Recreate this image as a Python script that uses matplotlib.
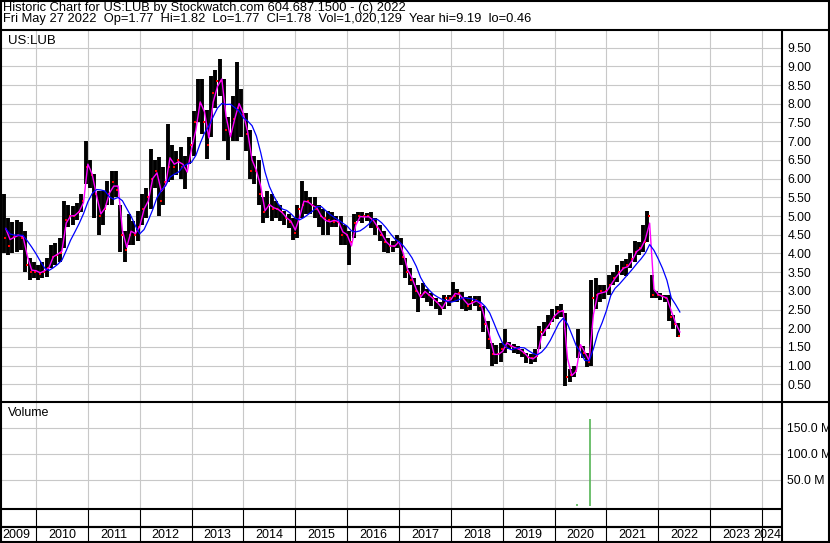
import numpy as np
import pandas as pd
import matplotlib
matplotlib.use("Agg")
import matplotlib.pyplot as plt

plt.rcParams['font.family'] = ['Liberation Sans', 'DejaVu Sans']

# ---------------- data (monthly bars) ----------------
months = pd.period_range("2009-05", "2022-05", freq="M")

high = [
    5.6, 4.95, 4.85, 4.9, 4.85, 4.6, 3.87, 3.78,                      # 2009 May-Dec
    3.7, 3.78, 3.87, 4.23, 4.28, 4.4, 5.4, 5.3, 5.27, 5.36, 5.58, 7.0,  # 2010
    6.5, 6.12, 5.67, 5.67, 5.94, 6.2, 6.2, 5.3, 4.6, 5.05, 4.86, 5.13,  # 2011
    5.58, 5.76, 6.8, 6.5, 6.57, 6.3, 7.47, 6.9, 6.75, 6.85, 6.6, 7.1,   # 2012
    7.8, 8.65, 8.65, 7.83, 8.73, 8.9, 9.19, 8.65, 7.65, 8.2, 9.12, 8.4,  # 2013
    7.75, 7.3, 6.6, 6.5, 5.5, 5.67, 5.6, 5.4, 5.3, 5.13, 5.05, 4.95,    # 2014
    5.3, 5.94, 5.67, 5.5, 5.5, 5.3, 5.2, 5.13, 5.1, 5.0, 5.0, 4.77,     # 2015
    4.6, 5.05, 5.1, 5.1, 5.08, 5.1, 4.95, 4.77, 4.6, 4.41, 4.32, 4.5,   # 2016
    4.4, 3.87, 3.6, 3.33, 3.15, 3.2, 3.06, 2.93, 2.8, 2.7, 2.88, 2.88,  # 2017
    3.24, 3.06, 2.97, 2.84, 2.85, 2.85, 2.85, 2.6, 2.2, 1.6, 1.55, 1.6,  # 2018
    1.98, 1.62, 1.58, 1.53, 1.45, 1.35, 1.3, 1.45, 2.07, 2.16, 2.34, 2.52,  # 2019
    2.6, 2.66, 2.4, 0.9, 1.0, 1.98, 1.53, 1.35, 3.3, 3.33, 3.15, 3.15,  # 2020
    3.42, 3.5, 3.7, 3.8, 3.85, 4.0, 4.32, 4.3, 4.77, 5.13, 3.42, 3.0,   # 2021
    2.95, 2.9, 2.9, 2.35, 2.15,                                         # 2022 Jan-May
]
low = [
    4.0, 3.96, 4.0, 4.05, 4.1, 3.5, 3.29, 3.33,
    3.29, 3.33, 3.38, 3.6, 3.7, 3.78, 4.14, 4.7, 4.77, 4.9, 5.1, 5.86,
    5.76, 4.95, 4.5, 4.77, 5.3, 5.3, 5.5, 4.05, 3.78, 4.23, 4.23, 4.32,
    4.77, 4.95, 5.2, 5.76, 5.0, 5.3, 5.9, 5.95, 6.1, 6.0, 5.72, 6.4,
    6.6, 7.5, 7.2, 6.53, 7.1, 7.9, 8.2, 7.0, 6.5, 7.0, 7.0, 7.1,
    6.75, 6.0, 5.85, 5.3, 4.82, 4.95, 4.86, 4.95, 4.86, 4.77, 4.68, 4.37,
    4.4, 4.95, 5.05, 5.05, 4.95, 4.7, 4.5, 4.5, 4.7, 4.7, 4.23, 4.23,
    3.7, 4.41, 4.86, 4.82, 4.86, 4.68, 4.5, 4.32, 4.05, 4.0, 4.05, 4.14,
    3.7, 3.33, 3.15, 2.79, 2.43, 2.8, 2.7, 2.6, 2.52, 2.34, 2.52, 2.6,
    2.7, 2.7, 2.52, 2.45, 2.48, 2.6, 2.45, 1.9, 1.45, 1.0, 1.05, 1.1,
    1.35, 1.44, 1.35, 1.3, 1.22, 1.08, 1.04, 1.1, 1.44, 1.8, 1.98, 2.16,
    2.25, 2.3, 0.46, 0.55, 0.7, 1.2, 1.2, 0.95, 1.0, 2.52, 2.7, 2.79,
    2.88, 3.15, 3.24, 3.42, 3.4, 3.6, 3.78, 3.96, 4.05, 4.3, 2.8, 2.8,
    2.75, 2.7, 2.2, 1.98, 1.77,
]
close = [
    4.4, 4.2, 4.45, 4.5, 4.4, 3.7, 3.5, 3.5,
    3.45, 3.5, 3.6, 3.9, 3.95, 4.0, 4.9, 5.0, 5.0, 5.1, 5.4, 6.3,
    6.1, 5.6, 5.0, 5.2, 5.6, 5.9, 5.7, 4.5, 4.1, 4.5, 4.5, 4.7,
    5.2, 5.5, 6.0, 6.2, 5.4, 5.9, 6.3, 6.3, 6.5, 6.3, 6.2, 6.9,
    7.5, 8.0, 7.5, 6.9, 8.3, 8.6, 8.6, 7.3, 7.2, 7.6, 7.9, 7.7,
    7.2, 6.2, 6.2, 5.6, 5.1, 5.3, 5.2, 5.2, 5.1, 4.95, 4.85, 4.55,
    5.2, 5.3, 5.4, 5.3, 5.2, 5.0, 4.95, 4.9, 4.85, 4.85, 4.5, 4.5,
    4.3, 4.8, 5.0, 5.0, 5.0, 4.9, 4.7, 4.5, 4.3, 4.2, 4.2, 4.3,
    3.9, 3.5, 3.3, 3.0, 2.9, 2.95, 2.9, 2.8, 2.7, 2.55, 2.8, 2.8,
    2.85, 2.95, 2.8, 2.6, 2.7, 2.75, 2.6, 2.1, 1.7, 1.3, 1.3, 1.45,
    1.5, 1.52, 1.48, 1.45, 1.35, 1.22, 1.2, 1.25, 1.9, 1.95, 2.1, 2.3,
    2.45, 2.45, 0.7, 0.75, 0.85, 1.5, 1.35, 1.1, 2.8, 2.9, 3.0, 3.0,
    3.15, 3.35, 3.5, 3.6, 3.7, 3.85, 4.05, 4.15, 4.3, 5.0, 2.9, 2.9,
    2.85, 2.82, 2.3, 2.1, 1.78,
]

vol_dates = ["2020-06-08", "2020-09-04"]
vol_values = [3.0e6, 167.0e6]

price_ticks = [0.5, 1.0, 1.5, 2.0, 2.5, 3.0, 3.5, 4.0, 4.5, 5.0,
               5.5, 6.0, 6.5, 7.0, 7.5, 8.0, 8.5, 9.0, 9.5]
vol_ticks = [50e6, 100e6, 150e6]
vol_labels = ["50.0 M", "100.0 M", "150.0 M"]
years = list(range(2009, 2025))

header1 = "Historic Chart for US:LUB by Stockwatch.com 604.687.1500 - (c) 2022"
header2 = ("Fri May 27 2022  Op=1.77  Hi=1.82  Lo=1.77  Cl=1.78  "
           "Vol=1,020,129  Year hi=9.19  lo=0.46")

# ---------------- derived series ----------------
df = pd.DataFrame({"high": high, "low": low, "close": close}, index=months)
df["x_mid"] = months.year + (months.month - 0.5) / 12
df["x_end"] = months.year + months.month / 12
df["ma_short"] = (df["high"] + df["low"] + df["close"]) / 3
df["ma_long"] = df["ma_short"].rolling(5, min_periods=1).mean()


def dec_year(d):
    d = pd.Timestamp(d)
    return d.year + (d.dayofyear - 0.5) / (366 if d.is_leap_year else 365)


vol_x = [dec_year(d) for d in vol_dates]

# ---------------- layout ----------------
W, H = 830, 543
fig = plt.figure(figsize=(W / 100, H / 100), dpi=100)
fig.patch.set_facecolor("white")


def box(x0, y0, x1, y1):
    return [x0 / W, 1 - y1 / H, (x1 - x0) / W, (y1 - y0) / H]


XR = 781.7
xlim = (2009.306, 2024.38)
grid_kw = dict(color="#c8c8c8", lw=0.8)

ax = fig.add_axes(box(0, 30, XR, 402))
axv = fig.add_axes(box(0, 402, XR, 509))
axd = fig.add_axes(box(0, 509, XR, 543))

for a in (ax, axv, axd):
    a.set_xlim(*xlim)
    for s in a.spines.values():
        s.set_visible(False)
    a.set_xticks(years[1:])
    a.tick_params(axis="x", length=0, labelbottom=False)
    a.set_axisbelow(True)

# price panel
ax.set_ylim(0.027, 9.973)
ax.yaxis.tick_right()
ax.set_yticks(price_ticks)
ax.set_yticklabels([f"{v:.2f}" for v in price_ticks])
ax.tick_params(axis="y", length=0, pad=4, labelsize=8.8)
ax.grid(True, **grid_kw)

ax.vlines(df["x_mid"], df["low"], df["high"], color="black", lw=2.8)
ax.plot(df["x_mid"] + 0.03, df["close"], "s", color="red", ms=1.8, mew=0)
ax.plot(df["x_end"], df["ma_short"], color="#ff00ff", lw=1.0)
ax.plot(df["x_end"], df["ma_long"], color="#0000ff", lw=0.9)

# volume panel
axv.set_ylim(-5.8e6, 200e6)
axv.yaxis.tick_right()
axv.set_yticks(vol_ticks)
axv.set_yticklabels(vol_labels)
axv.tick_params(axis="y", length=0, pad=4, labelsize=8.8)
axv.grid(True, **grid_kw)
axv.vlines(vol_x, 0, vol_values, color="#55b555", lw=1.2)

# date rows
axd.set_ylim(0, 34)
axd.set_yticks([])
axd.vlines(years[1:], 0, 34, color="black", lw=0.8)
axd.axhline(16, color="black", lw=1.5)
for y in years:
    if y == years[0]:
        axd.text(xlim[0] + 0.04, 7.5, str(y), ha="left", va="center", fontsize=9)
    elif y == years[-1]:
        axd.text(xlim[1] - 0.01, 7.5, str(y), ha="right", va="center", fontsize=9)
    else:
        axd.text(y + 0.5, 7.5, str(y), ha="center", va="center", fontsize=9)

# frame / header overlay in pixel units
fr = fig.add_axes([0, 0, 1, 1], zorder=5)
fr.set_xlim(0, W)
fr.set_ylim(H, 0)
fr.axis("off")
fr.patch.set_alpha(0)
lw = 1.5
fr.hlines([1, 30, 402], 0, W, color="black", lw=lw)
fr.hlines([509, 527], 0, XR, color="black", lw=lw)
fr.hlines([542], 0, W, color="black", lw=lw)
fr.vlines([1, W - 1], 0, H, color="black", lw=lw)
fr.vlines([XR], 30, H, color="black", lw=lw)

fr.text(3, 2.5, header1 + "\n" + header2, va="top", ha="left",
        fontsize=9.3, linespacing=0.82)
fr.text(8, 41, "US:LUB", va="center", fontsize=9.5)
fr.text(8, 413, "Volume", va="center", fontsize=9)

fig.savefig("out.png", dpi=100)
